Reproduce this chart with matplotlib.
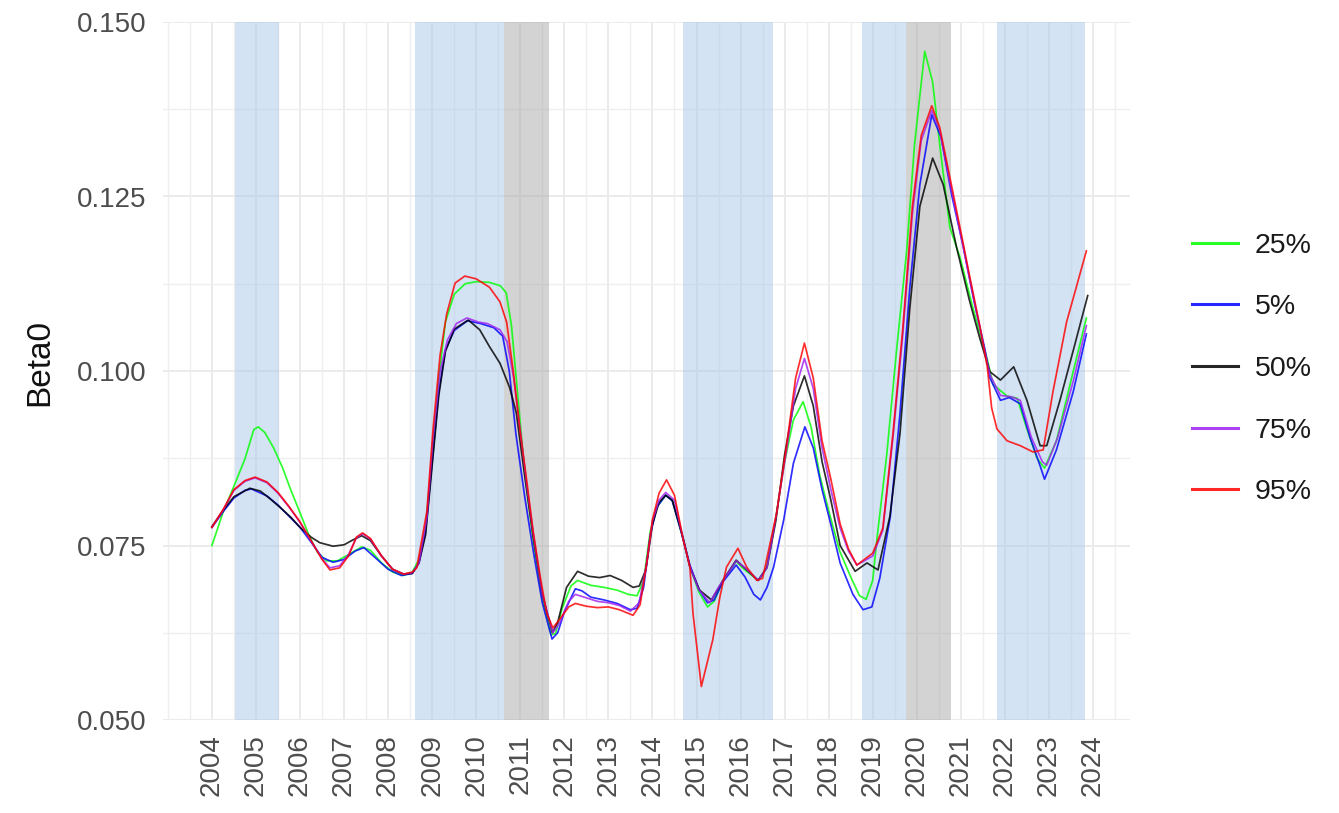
import numpy as np
import matplotlib
matplotlib.use("Agg")
import matplotlib.pyplot as plt
from matplotlib.ticker import FixedLocator, MultipleLocator, FormatStrFormatter
from matplotlib.lines import Line2D

plt.rcParams['font.family'] = ['Liberation Sans', 'DejaVu Sans']

# ---- Beta0 quantile paths (time in fractional years) ----
q25_t = [2004.00, 2004.25, 2004.50, 2004.75, 2004.95, 2005.05, 2005.20, 2005.40, 2005.60, 2005.80,
         2006.00, 2006.20, 2006.40, 2006.60, 2006.85, 2007.10, 2007.40, 2007.60, 2007.85, 2008.10,
         2008.35, 2008.55, 2008.70, 2008.85, 2009.00, 2009.15, 2009.30, 2009.50, 2009.75, 2010.00,
         2010.30, 2010.55, 2010.68, 2010.80, 2010.95, 2011.10, 2011.30, 2011.50, 2011.70, 2011.80,
         2011.95, 2012.15, 2012.30, 2012.60, 2012.90, 2013.20, 2013.45, 2013.65, 2013.80, 2013.95,
         2014.10, 2014.30, 2014.45, 2014.65, 2014.85, 2015.05, 2015.25, 2015.40, 2015.60, 2015.90,
         2016.10, 2016.40, 2016.60, 2016.80, 2017.00, 2017.20, 2017.42, 2017.60, 2017.80, 2018.00,
         2018.25, 2018.50, 2018.70, 2018.85, 2019.00, 2019.10, 2019.32, 2019.54, 2019.77, 2019.95,
         2020.18, 2020.36, 2020.52, 2020.75, 2020.98, 2021.28, 2021.60, 2021.73, 2022.05, 2022.28,
         2022.50, 2022.73, 2022.90, 2023.17, 2023.48, 2023.85]
q25_v = [0.0750, 0.0797, 0.0835, 0.0874, 0.0916, 0.0920, 0.0912, 0.0890, 0.0862, 0.0828,
         0.0797, 0.0765, 0.0740, 0.0728, 0.0728, 0.0737, 0.0748, 0.0743, 0.0725, 0.0712,
         0.0707, 0.0712, 0.0730, 0.0775, 0.0880, 0.0990, 0.1070, 0.1110, 0.1125, 0.1128,
         0.1127, 0.1122, 0.1112, 0.1065, 0.0960, 0.0855, 0.0755, 0.0675, 0.0622, 0.0624,
         0.0660, 0.0692, 0.0700, 0.0693, 0.0690, 0.0686, 0.0680, 0.0678, 0.0700, 0.0770,
         0.0805, 0.0822, 0.0815, 0.0770, 0.0720, 0.0684, 0.0662, 0.0670, 0.0700, 0.0727,
         0.0715, 0.0700, 0.0718, 0.0790, 0.0870, 0.0930, 0.0956, 0.0920, 0.0850, 0.0800,
         0.0742, 0.0705, 0.0678, 0.0673, 0.0700, 0.0762, 0.0881, 0.1029, 0.1172, 0.1325,
         0.1458, 0.1414, 0.1325, 0.1206, 0.1163, 0.1089, 0.1017, 0.0981, 0.0964, 0.0961,
         0.0917, 0.0875, 0.0861, 0.0900, 0.0981, 0.1076]

q05_t = [2004.00, 2004.25, 2004.50, 2004.75, 2004.90, 2005.25, 2005.50, 2005.75, 2006.00, 2006.25,
         2006.50, 2006.75, 2007.00, 2007.25, 2007.45, 2007.70, 2008.00, 2008.30, 2008.55, 2008.70,
         2008.85, 2009.00, 2009.15, 2009.30, 2009.50, 2009.80, 2010.10, 2010.40, 2010.60, 2010.75,
         2010.90, 2011.10, 2011.30, 2011.50, 2011.72, 2011.85, 2012.00, 2012.25, 2012.40, 2012.60,
         2012.90, 2013.20, 2013.50, 2013.65, 2013.80, 2013.95, 2014.10, 2014.30, 2014.45, 2014.65,
         2014.85, 2015.05, 2015.25, 2015.40, 2015.60, 2015.90, 2016.10, 2016.30, 2016.45, 2016.60,
         2016.75, 2016.98, 2017.20, 2017.46, 2017.65, 2017.85, 2018.05, 2018.26, 2018.55, 2018.78,
         2018.98, 2019.16, 2019.40, 2019.62, 2019.84, 2020.07, 2020.34, 2020.55, 2020.80, 2021.05,
         2021.30, 2021.55, 2021.66, 2021.90, 2022.10, 2022.35, 2022.57, 2022.80, 2022.90, 2023.17,
         2023.55, 2023.85]
q05_v = [0.0776, 0.0798, 0.0818, 0.0829, 0.0831, 0.0821, 0.0808, 0.0792, 0.0776, 0.0755,
         0.0733, 0.0726, 0.0730, 0.0742, 0.0747, 0.0733, 0.0716, 0.0707, 0.0710, 0.0725,
         0.0770, 0.0870, 0.0970, 0.1030, 0.1058, 0.1072, 0.1068, 0.1062, 0.1050, 0.1000,
         0.0910, 0.0820, 0.0740, 0.0668, 0.0616, 0.0625, 0.0655, 0.0688, 0.0685, 0.0676,
         0.0672, 0.0667, 0.0658, 0.0660, 0.0690, 0.0765, 0.0805, 0.0822, 0.0814, 0.0770,
         0.0722, 0.0688, 0.0668, 0.0672, 0.0698, 0.0722, 0.0705, 0.0680, 0.0672, 0.0690,
         0.0719, 0.0787, 0.0868, 0.0920, 0.0890, 0.0830, 0.0780, 0.0725, 0.0680, 0.0658,
         0.0662, 0.0703, 0.0792, 0.0940, 0.1118, 0.1267, 0.1367, 0.1335, 0.1250, 0.1180,
         0.1100, 0.1030, 0.0990, 0.0958, 0.0962, 0.0953, 0.0905, 0.0864, 0.0845, 0.0887,
         0.0970, 0.1053]

q50_t = [2004.00, 2004.25, 2004.50, 2004.86, 2005.10, 2005.30, 2005.54, 2005.80, 2006.00, 2006.25,
         2006.45, 2006.75, 2007.00, 2007.20, 2007.40, 2007.60, 2007.85, 2008.10, 2008.35, 2008.55,
         2008.70, 2008.85, 2009.00, 2009.15, 2009.30, 2009.50, 2009.82, 2010.08, 2010.30, 2010.54,
         2010.76, 2010.91, 2011.10, 2011.30, 2011.50, 2011.73, 2011.85, 2012.05, 2012.30, 2012.55,
         2012.80, 2013.04, 2013.30, 2013.56, 2013.70, 2013.85, 2014.00, 2014.15, 2014.30, 2014.45,
         2014.70, 2014.85, 2015.07, 2015.34, 2015.60, 2015.90, 2016.14, 2016.40, 2016.60, 2016.80,
         2017.00, 2017.20, 2017.45, 2017.65, 2017.85, 2018.05, 2018.26, 2018.60, 2018.87, 2019.12,
         2019.39, 2019.62, 2019.84, 2020.07, 2020.36, 2020.60, 2020.90, 2021.20, 2021.43, 2021.66,
         2021.90, 2022.20, 2022.50, 2022.80, 2022.95, 2023.25, 2023.55, 2023.88]
q50_v = [0.0777, 0.0800, 0.0820, 0.0832, 0.0828, 0.0818, 0.0805, 0.0790, 0.0776, 0.0762,
         0.0754, 0.0749, 0.0751, 0.0758, 0.0764, 0.0757, 0.0735, 0.0716, 0.0709, 0.0710,
         0.0725, 0.0765, 0.0865, 0.0965, 0.1028, 0.1060, 0.1073, 0.1059, 0.1035, 0.1011,
         0.0976, 0.0940, 0.0850, 0.0760, 0.0680, 0.0625, 0.0640, 0.0690, 0.0713, 0.0706,
         0.0704, 0.0707, 0.0700, 0.0690, 0.0692, 0.0715, 0.0780, 0.0812, 0.0822, 0.0815,
         0.0760, 0.0719, 0.0686, 0.0672, 0.0700, 0.0729, 0.0715, 0.0700, 0.0719, 0.0785,
         0.0880, 0.0950, 0.0993, 0.0950, 0.0870, 0.0815, 0.0750, 0.0713, 0.0725, 0.0715,
         0.0792, 0.0911, 0.1089, 0.1236, 0.1305, 0.1267, 0.1178, 0.1100, 0.1047, 0.0999,
         0.0987, 0.1006, 0.0958, 0.0893, 0.0893, 0.0958, 0.1029, 0.1108]

q75_t = [2004.00, 2004.25, 2004.50, 2004.75, 2004.98, 2005.25, 2005.50, 2005.75, 2006.00, 2006.25,
         2006.50, 2006.68, 2006.90, 2007.10, 2007.28, 2007.42, 2007.60, 2007.85, 2008.10, 2008.35,
         2008.55, 2008.70, 2008.88, 2009.02, 2009.18, 2009.35, 2009.55, 2009.79, 2010.05, 2010.25,
         2010.54, 2010.70, 2010.85, 2011.00, 2011.15, 2011.30, 2011.50, 2011.74, 2011.90, 2012.10,
         2012.25, 2012.50, 2012.75, 2013.00, 2013.25, 2013.50, 2013.70, 2013.87, 2014.00, 2014.15,
         2014.30, 2014.50, 2014.70, 2014.85, 2015.05, 2015.30, 2015.50, 2015.90, 2016.14, 2016.40,
         2016.60, 2016.80, 2017.04, 2017.25, 2017.45, 2017.65, 2017.85, 2018.05, 2018.26, 2018.45,
         2018.64, 2019.00, 2019.23, 2019.46, 2019.68, 2019.90, 2020.10, 2020.34, 2020.52, 2020.75,
         2020.98, 2021.20, 2021.43, 2021.66, 2021.90, 2022.15, 2022.35, 2022.60, 2022.85, 2022.95,
         2023.20, 2023.55, 2023.85]
q75_v = [0.0776, 0.0800, 0.0829, 0.0842, 0.0847, 0.0840, 0.0825, 0.0805, 0.0783, 0.0757,
         0.0731, 0.0718, 0.0721, 0.0737, 0.0761, 0.0767, 0.0759, 0.0735, 0.0716, 0.0709,
         0.0711, 0.0725, 0.0790, 0.0905, 0.1000, 0.1045, 0.1068, 0.1076, 0.1070, 0.1068,
         0.1059, 0.1042, 0.0990, 0.0915, 0.0835, 0.0765, 0.0680, 0.0625, 0.0640, 0.0670,
         0.0680, 0.0675, 0.0670, 0.0668, 0.0664, 0.0656, 0.0668, 0.0725, 0.0785, 0.0815,
         0.0826, 0.0815, 0.0758, 0.0720, 0.0687, 0.0668, 0.0690, 0.0728, 0.0716, 0.0700,
         0.0718, 0.0790, 0.0885, 0.0975, 0.1018, 0.0975, 0.0890, 0.0830, 0.0775, 0.0742,
         0.0722, 0.0735, 0.0772, 0.0905, 0.1050, 0.1225, 0.1330, 0.1373, 0.1345, 0.1272,
         0.1200, 0.1132, 0.1062, 0.0995, 0.0965, 0.0963, 0.0958, 0.0905, 0.0870, 0.0865,
         0.0905, 0.0985, 0.1065]

q95_t = [2004.00, 2004.25, 2004.50, 2004.75, 2004.98, 2005.25, 2005.50, 2005.75, 2006.00, 2006.25,
         2006.50, 2006.68, 2006.90, 2007.10, 2007.28, 2007.42, 2007.60, 2007.85, 2008.10, 2008.35,
         2008.55, 2008.65, 2008.88, 2009.02, 2009.18, 2009.33, 2009.52, 2009.74, 2010.00, 2010.30,
         2010.54, 2010.69, 2010.84, 2010.99, 2011.15, 2011.29, 2011.45, 2011.60, 2011.74, 2011.90,
         2012.10, 2012.25, 2012.50, 2012.75, 2013.00, 2013.25, 2013.56, 2013.72, 2013.87, 2014.00,
         2014.15, 2014.32, 2014.50, 2014.70, 2014.85, 2014.92, 2015.11, 2015.37, 2015.53, 2015.68,
         2015.94, 2016.14, 2016.37, 2016.50, 2016.82, 2017.04, 2017.25, 2017.45, 2017.65, 2017.85,
         2018.05, 2018.26, 2018.45, 2018.64, 2019.00, 2019.23, 2019.46, 2019.68, 2019.90, 2020.10,
         2020.34, 2020.52, 2020.75, 2020.98, 2021.20, 2021.43, 2021.60, 2021.70, 2021.82, 2022.05,
         2022.35, 2022.64, 2022.87, 2023.09, 2023.40, 2023.85]
q95_v = [0.0776, 0.0801, 0.0830, 0.0843, 0.0848, 0.0841, 0.0826, 0.0806, 0.0784, 0.0757,
         0.0730, 0.0715, 0.0718, 0.0735, 0.0762, 0.0768, 0.0760, 0.0735, 0.0716, 0.0709,
         0.0712, 0.0718, 0.0799, 0.0917, 0.1023, 0.1082, 0.1126, 0.1136, 0.1132, 0.1120,
         0.1099, 0.1070, 0.1000, 0.0917, 0.0841, 0.0771, 0.0706, 0.0653, 0.0632, 0.0645,
         0.0662, 0.0667, 0.0663, 0.0661, 0.0662, 0.0658, 0.0650, 0.0665, 0.0725, 0.0787,
         0.0825, 0.0844, 0.0822, 0.0758, 0.0719, 0.0653, 0.0548, 0.0615, 0.0676, 0.0719,
         0.0746, 0.0719, 0.0700, 0.0703, 0.0797, 0.0891, 0.0990, 0.1040, 0.0990, 0.0900,
         0.0845, 0.0781, 0.0745, 0.0722, 0.0739, 0.0775, 0.0911, 0.1059, 0.1236, 0.1337,
         0.1380, 0.1349, 0.1278, 0.1206, 0.1136, 0.1065, 0.1006, 0.0947, 0.0917, 0.0900,
         0.0893, 0.0884, 0.0887, 0.0970, 0.1070, 0.1172]

series_labels = ["25%", "5%", "50%", "75%", "95%"]
series_colors = ["#00FF00", "#0000FF", "#000000", "#A020F0", "#FF0000"]

# ---- shaded periods ----
blue_start = [2004.52, 2008.62, 2014.69, 2018.76, 2021.82]
blue_end   = [2005.52, 2010.64, 2016.74, 2019.75, 2023.82]
grey_start = [2010.64, 2019.75]
grey_end   = [2011.65, 2020.78]

year_ticks = list(range(2004, 2025))
y_ticks = [0.050, 0.075, 0.100, 0.125, 0.150]

W, H = 1339, 813
fig = plt.figure(figsize=(W / 100, H / 100), dpi=100)
ax = fig.add_axes([163 / W, 1 - 720 / H, (1130 - 163) / W, (720 - 22) / H])

ax.set_xlim(2002.89, 2024.84)
ax.set_ylim(0.050, 0.150)

# grid
ax.xaxis.set_major_locator(FixedLocator(year_ticks))
ax.xaxis.set_minor_locator(MultipleLocator(0.5))
ax.yaxis.set_major_locator(FixedLocator(y_ticks))
ax.yaxis.set_minor_locator(MultipleLocator(0.0125))
ax.yaxis.set_major_formatter(FormatStrFormatter('%.3f'))
ax.grid(which='major', color='#EBEBEB', linewidth=1.4, zorder=0)
ax.grid(which='minor', color='#EFEFEF', linewidth=1.0, zorder=0)
ax.set_axisbelow(True)
for s in ax.spines.values():
    s.set_visible(False)

for a, b in zip(blue_start, blue_end):
    ax.axvspan(a, b, facecolor='#A8C8EA', alpha=0.5, linewidth=0, zorder=1)
for a, b in zip(grey_start, grey_end):
    ax.axvspan(a, b, facecolor='#A9A9A9', alpha=0.5, linewidth=0, zorder=1)

all_t = [q25_t, q05_t, q50_t, q75_t, q95_t]
all_v = [q25_v, q05_v, q50_v, q75_v, q95_v]
handles = []
for t, v, lab, col in zip(all_t, all_v, series_labels, series_colors):
    ax.plot(t, v, color=col, linewidth=1.25, alpha=0.82, label=lab, zorder=3,
            solid_joinstyle='round')
    handles.append(Line2D([], [], color=col, linewidth=2.2, alpha=0.85))

ax.tick_params(axis='both', which='both', length=0)
ax.tick_params(axis='x', labelsize=20, labelcolor='#4D4D4D', pad=10, labelrotation=90)
ax.tick_params(axis='y', labelsize=20, labelcolor='#4D4D4D', pad=12)

fig.text(40 / W, 1 - 362 / H, "Beta0", rotation=90, fontsize=24, color='#111111',
         ha='center', va='center')

leg = fig.legend(handles, series_labels, loc='center left',
                 bbox_to_anchor=(1192 / W, 1 - 369 / H), frameon=False,
                 fontsize=20.5, handlelength=1.6, handletextpad=0.6,
                 labelspacing=1.25, borderpad=0, borderaxespad=0)
for txt in leg.get_texts():
    txt.set_color('#1A1A1A')

fig.savefig("out.png", dpi=100, facecolor='white')
